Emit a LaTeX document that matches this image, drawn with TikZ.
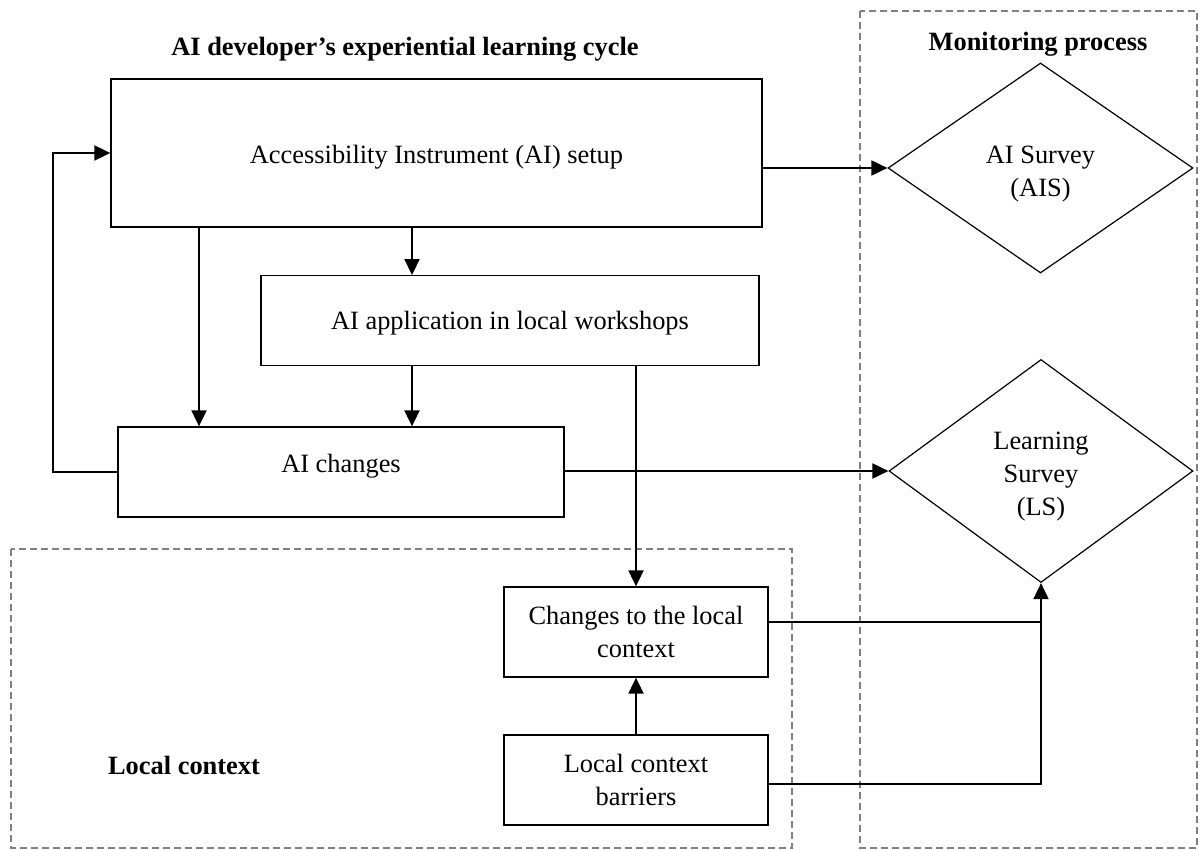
\documentclass[tikz,border=0pt]{standalone}
\usepackage{fontspec}
\setmainfont{Liberation Serif}
\usetikzlibrary{arrows.meta,shapes.geometric}
\begin{document}
\begin{tikzpicture}[x=1pt,y=-1pt,
  font=\fontsize{26.4}{33}\selectfont,
  box/.style={draw, line width=1.3pt, inner sep=0pt, align=center},
  dia/.style={draw, diamond, line width=1.2pt, inner sep=0pt},
  dtext/.style={align=center, yshift=-6pt},
  conn/.style={line width=1.9pt},
  arr/.style={line width=1.9pt, -{Triangle[length=16pt,width=15pt]}},
  dashbox/.style={draw=black!50, line width=1.3pt, dash pattern=on 7pt off 4pt},
  ttl/.style={font=\fontsize{26.4}{33}\selectfont\bfseries}
]
\useasboundingbox (0,0) rectangle (1199,850);

% dashed groups
\draw[dashbox] (11,549) rectangle (792,848);
\draw[dashbox] (860,11) rectangle (1197,848);

% titles
\node[ttl] (t1) at (405,49) {AI developer’s experiential learning cycle};
\node[ttl] (t2) at (1038,44) {Monitoring process};
\node[ttl] (t3) at (184,765) {Local context};

% boxes
\node[box, minimum width=651pt, minimum height=148pt, text height=27pt, text depth=6pt] (setup) at (436.5,153) {Accessibility Instrument (AI) setup};
\node[box, minimum width=498pt, minimum height=90pt, text height=24pt, text depth=6pt] (app) at (510,320.7) {AI application in local workshops};
\node[box, minimum width=446pt, minimum height=90pt, text depth=18pt] (chg) at (341,472) {AI changes};
\node[box, minimum width=264pt, minimum height=90pt] (lchg) at (636,632) {Changes to the local\\context};
\node[box, minimum width=264pt, minimum height=90pt] (bar) at (636,780) {Local context\\barriers};

% diamonds
\node[dia, minimum width=305pt, minimum height=210pt, label={[dtext]center:AI Survey\\(AIS)}] (ais) at (1040.5,168) {};
\node[dia, minimum width=304pt, minimum height=223pt, label={[dtext]center:Learning\\Survey\\(LS)}] (ls) at (1041,471) {};

% helper coordinates
\coordinate (xa) at (412,0);
\coordinate (xb) at (199,0);
\coordinate (e1) at ([yshift=10pt]lchg.east);
\coordinate (e2) at ([yshift=-4pt]bar.east);

% connectors
\draw[arr] (setup.south -| xa) -- (app.north -| xa);
\draw[arr] (setup.south -| xb) -- (chg.north -| xb);
\draw[arr] (app.south -| xa) -- (chg.north -| xa);
\draw[arr] (app.south -| lchg.north) -- (lchg.north);
\draw[arr] (bar.north) -- (lchg.south);
\draw[arr] (chg.west) -- ++(-64,0) |- (setup.west);
\draw[arr] (setup.east |- ais.west) -- (ais.west);
\draw[arr] (chg.east |- ls.west) -- (ls.west);
\draw[conn] (e1) -- (e1 -| ls.south);
\draw[arr] (e2) -| (ls.south);
\end{tikzpicture}
\end{document}
